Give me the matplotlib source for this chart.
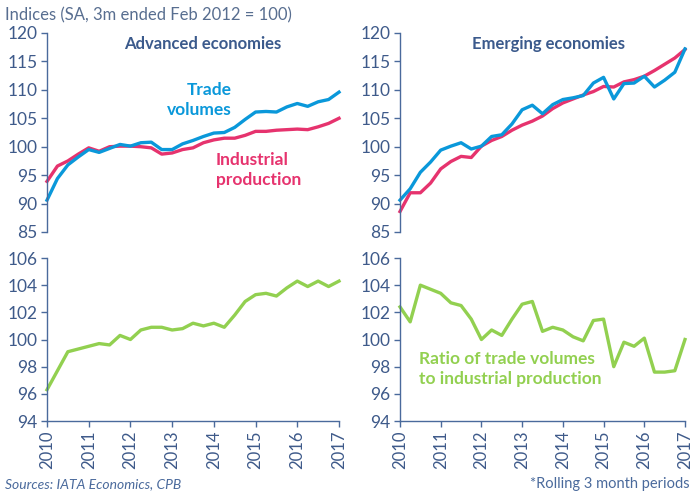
import numpy as np
import matplotlib
matplotlib.use('Agg')
import matplotlib.pyplot as plt

plt.rcParams['font.family'] = ['Lato', 'DejaVu Sans']

# quarterly points, 2010 Q1 .. 2017 Q1
n_pts = 29
years = [2010, 2011, 2012, 2013, 2014, 2015, 2016, 2017]

adv_trade = [90.6, 94.4, 96.8, 98.2, 99.5, 99.0, 99.7, 100.4, 100.1, 100.7,
             100.8, 99.5, 99.5, 100.5, 101.1, 101.8, 102.4, 102.5, 103.4, 104.8,
             106.1, 106.2, 106.1, 107.0, 107.6, 107.1, 107.9, 108.3, 109.6]
adv_ip = [93.9, 96.6, 97.5, 98.7, 99.8, 99.2, 100.0, 100.1, 100.1, 100.0,
          99.8, 98.7, 98.9, 99.5, 99.8, 100.7, 101.2, 101.5, 101.5, 102.0,
          102.7, 102.7, 102.9, 103.0, 103.1, 103.0, 103.5, 104.1, 105.0]
adv_ratio = [96.3, 97.7, 99.1, 99.3, 99.5, 99.7, 99.6, 100.3, 100.0, 100.7,
             100.9, 100.9, 100.7, 100.8, 101.2, 101.0, 101.2, 100.9, 101.8, 102.8,
             103.3, 103.4, 103.2, 103.8, 104.3, 103.9, 104.3, 103.9, 104.3]

em_trade = [90.6, 92.6, 95.5, 97.3, 99.4, 100.1, 100.7, 99.6, 100.1, 101.8,
            102.1, 104.0, 106.5, 107.3, 105.8, 107.4, 108.3, 108.6, 109.0, 111.2,
            112.2, 108.4, 111.1, 111.2, 112.4, 110.5, 111.7, 113.1, 117.2]
em_ip = [88.6, 91.9, 91.9, 93.6, 96.1, 97.4, 98.3, 98.1, 100.1, 101.1,
         101.8, 102.9, 103.8, 104.5, 105.4, 106.7, 107.7, 108.4, 109.1, 109.7,
         110.6, 110.5, 111.4, 111.8, 112.4, 113.4, 114.5, 115.6, 117.1]
em_ratio = [102.4, 101.3, 104.0, 103.7, 103.4, 102.7, 102.5, 101.5, 100.0, 100.7,
            100.3, 101.5, 102.6, 102.8, 100.6, 100.9, 100.7, 100.2, 99.9, 101.4,
            101.5, 98.0, 99.8, 99.5, 100.1, 97.6, 97.6, 97.7, 100.0]

x = 2010 + np.arange(n_pts) * 0.25

blue = '#0A98DA'
pink = '#E6336E'
green = '#92D050'
axcol = '#4A6A9C'
txtcol = '#3E5A8A'

W, H = 694, 494
fig = plt.figure(figsize=(W / 100, H / 100), dpi=100)

def make_ax(l, t, r, b):
    return fig.add_axes([l / W, 1 - b / H, (r - l) / W, (b - t) / H])

ax_tl = make_ax(47, 33, 339, 232)
ax_tr = make_ax(400, 33, 685, 232)
ax_bl = make_ax(47, 258, 339, 421)
ax_br = make_ax(400, 258, 685, 421)

for ax in [ax_tl, ax_tr, ax_bl, ax_br]:
    for s in ['top', 'right']:
        ax.spines[s].set_visible(False)
    ax.spines['left'].set_color(axcol)
    ax.spines['bottom'].set_color(axcol)
    ax.spines['left'].set_linewidth(1.0)
    ax.spines['bottom'].set_linewidth(1.0)
    ax.tick_params(colors=axcol, labelcolor=txtcol, labelsize=12.5, length=4,
                   direction='out', width=1.0, pad=3)
    ax.set_xlim(2010, 2017)
    ax.patch.set_alpha(0)

for ax in [ax_tl, ax_tr]:
    ax.set_ylim(85, 120)
    ax.set_yticks(range(85, 121, 5))
    ax.spines['bottom'].set_visible(False)
    ax.set_xticks([])

for ax in [ax_bl, ax_br]:
    ax.set_ylim(94, 106)
    ax.set_yticks(range(94, 107, 2))
    ax.set_xticks(years)
    ax.set_xticklabels([str(y) for y in years], rotation=90, fontsize=12)

ax_tl.plot(x, adv_ip, color=pink, lw=2.4, solid_joinstyle='round', clip_on=False)
ax_tl.plot(x, adv_trade, color=blue, lw=2.4, solid_joinstyle='round', clip_on=False)
ax_tr.plot(x, em_ip, color=pink, lw=2.4, solid_joinstyle='round', clip_on=False)
ax_tr.plot(x, em_trade, color=blue, lw=2.4, solid_joinstyle='round', clip_on=False)
ax_bl.plot(x, adv_ratio, color=green, lw=2.4, solid_joinstyle='round', clip_on=False)
ax_br.plot(x, em_ratio, color=green, lw=2.4, solid_joinstyle='round', clip_on=False)

fig.text(5 / W, 1 - 15 / H, 'Indices (SA, 3m ended Feb 2012 = 100)', color='#586E90',
         fontsize=12, va='center', ha='left')
fig.text(203 / W, 1 - 44 / H, 'Advanced economies', color='#3B5A8C', fontsize=12,
         fontweight='bold', ha='center', va='center')
fig.text(548 / W, 1 - 44 / H, 'Emerging economies', color='#3B5A8C', fontsize=12,
         fontweight='bold', ha='center', va='center')
fig.text(232 / W, 1 - 100 / H, 'Trade\nvolumes', color=blue, fontsize=12.5,
         fontweight='bold', ha='right', va='center', linespacing=1.3)
fig.text(216 / W, 1 - 170 / H, 'Industrial\nproduction', color=pink, fontsize=12.5,
         fontweight='bold', ha='left', va='center', linespacing=1.3)
fig.text(419 / W, 1 - 369 / H, 'Ratio of trade volumes\nto industrial production',
         color=green, fontsize=12.5, fontweight='bold', ha='left', va='center',
         linespacing=1.3)
fig.text(5 / W, 1 - 484 / H, 'Sources: IATA Economics, CPB', color='#4A6A9C',
         fontsize=10, style='italic', ha='left', va='center')
fig.text(690 / W, 1 - 484 / H, '*Rolling 3 month periods', color='#4A6A9C',
         fontsize=10.5, ha='right', va='center')

fig.savefig('out.png', dpi=100)
